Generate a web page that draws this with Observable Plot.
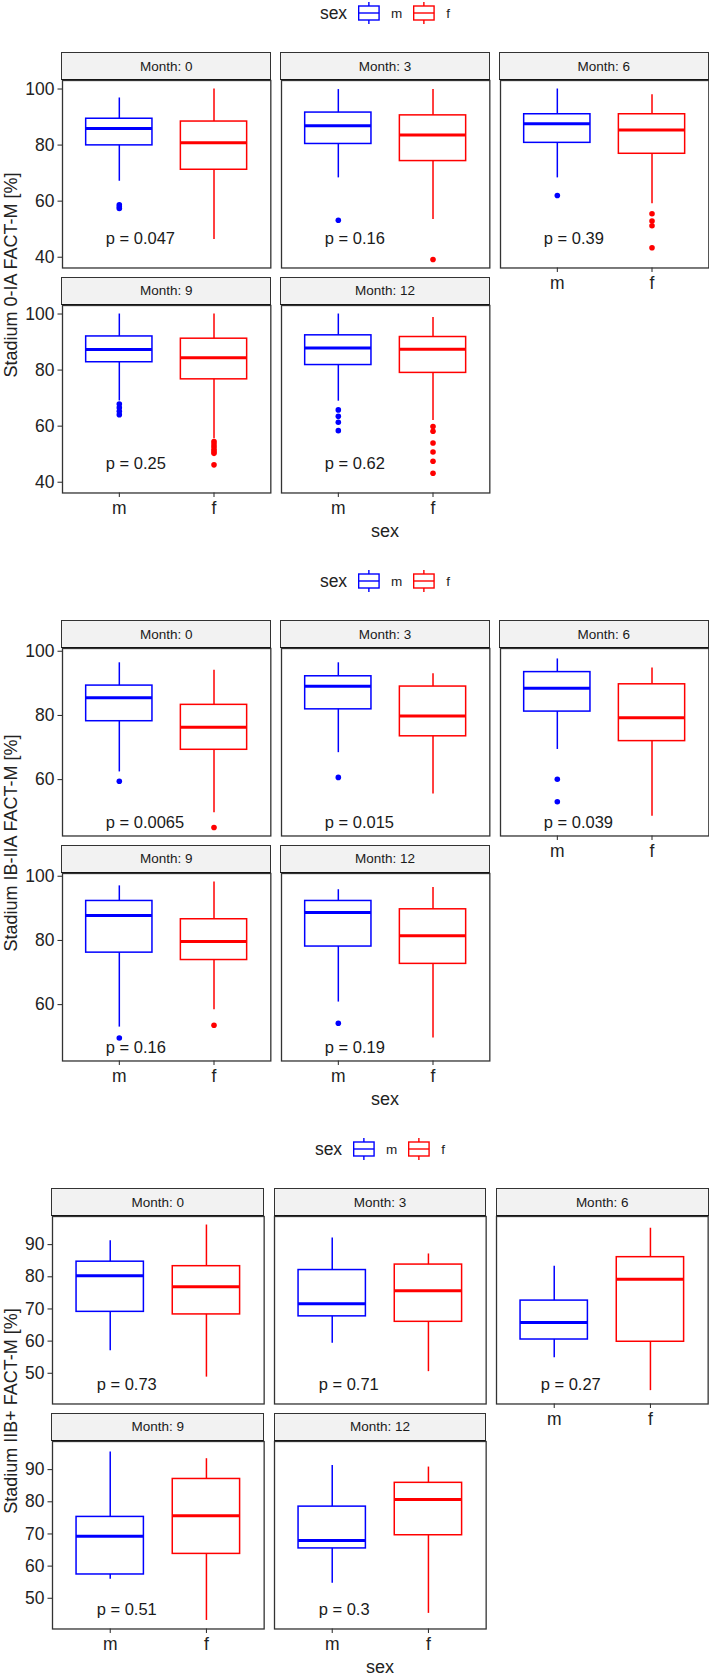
<!DOCTYPE html>
<html>
<head>
<meta charset="utf-8">
<script src="https://cdn.jsdelivr.net/npm/d3@7"></script>
<script src="https://cdn.jsdelivr.net/npm/@observablehq/plot@0.6"></script>
<style>
  body { margin: 0; background: #fff; font-family: "Liberation Sans", Arial, sans-serif; color: #222; }
  #root { position: relative; width: 709px; height: 1675px; overflow: hidden; }
  .abs { position: absolute; }
  .strip { position: absolute; box-sizing: border-box; background: #f2f2f2; border: 1.3px solid #333;
           border-bottom: 1.6px solid #111; font-size: 13.5px; color: #1a1a1a;
           display: flex; align-items: center; justify-content: center; }
  .legend { position: absolute; display: flex; align-items: center; transform: translate(-50%, -50%);
            font-size: 13.5px; white-space: nowrap; }
  .legend .title { font-size: 17.5px; margin-right: 11px; }
  .legend svg { display: block; margin-right: 11px; }
  .legend .lab { margin-right: 11px; }
  .ytitle { position: absolute; font-size: 18px; line-height: 1; white-space: nowrap;
            transform: translate(-50%, -50%) rotate(-90deg); }
  .xtitle { position: absolute; font-size: 18px; transform: translate(-50%, -50%); }
</style>
</head>
<body>
<div id="root"></div>
<script>
// Faceted box plots of FACT-M scores by sex and follow-up month, one block per stage.
const months = [0, 3, 6, 9, 12];
const sexes = ["m", "f"];
const sexColors = ["#0000ff", "#ff0000"];

// Box statistics per month: [lower whisker, Q1, median, Q3, upper whisker]
const stage1Title = "Stadium 0-IA FACT-M [%]";
const stage1Male = [
  [67.1, 79.9, 85.9, 89.4, 96.8],
  [68.3, 80.4, 86.9, 91.6, 99.8],
  [68.3, 80.8, 87.6, 91.0, 100],
  [69.0, 82.8, 87.3, 92.0, 100],
  [68.9, 81.8, 87.9, 92.4, 100]
];
const stage1Female = [
  [46.3, 71.2, 80.8, 88.4, 100],
  [53.5, 74.3, 83.6, 90.6, 99.8],
  [59.1, 76.9, 85.4, 91.0, 98.0],
  [55.5, 76.7, 84.4, 91.2, 100],
  [62.0, 79.0, 87.4, 91.8, 98.8]
];
const stage1MaleOutliers = [[57.4, 58.0, 58.7], [53.2], [62.0], [67.9, 66.6, 65.3, 64.1], [65.8, 63.5, 61.4, 58.4]];
const stage1FemaleOutliers = [[], [39.2], [55.5, 52.9, 51.2, 43.4], [54.5, 53.6, 52.7, 51.8, 51.0, 50.3, 46.2], [59.9, 58.2, 54.0, 50.8, 47.5, 43.2]];
const stage1P = ["0.047", "0.16", "0.39", "0.25", "0.62"];
const stage1Ticks = [40, 60, 80, 100];

const stage2Title = "Stadium IB-IIA FACT-M [%]";
const stage2Male = [
  [62.4, 78.2, 85.5, 89.3, 96.4],
  [68.4, 81.9, 89.1, 92.2, 96.4],
  [69.4, 81.2, 88.5, 93.5, 97.6],
  [53.0, 76.2, 87.8, 92.3, 97.0],
  [60.8, 78.1, 88.7, 92.3, 95.8]
];
const stage2Female = [
  [49.7, 69.3, 76.3, 83.3, 94.1],
  [55.5, 73.5, 79.8, 89.0, 93.0],
  [48.6, 72.0, 79.3, 89.7, 94.8],
  [58.4, 73.9, 79.7, 86.6, 98.2],
  [49.6, 72.7, 81.5, 89.7, 96.5]
];
const stage2MaleOutliers = [[59.5], [60.7], [60.1, 53.1], [49.6], [54.2]];
const stage2FemaleOutliers = [[45.1], [], [], [53.6], []];
const stage2P = ["0.0065", "0.015", "0.039", "0.16", "0.19"];
const stage2Ticks = [60, 80, 100];

const stage3Title = "Stadium IIB+ FACT-M [%]";
const stage3Male = [
  [57.0, 69.1, 80.3, 84.7, 91.2],
  [59.3, 67.7, 71.6, 82.1, 92.1],
  [54.8, 60.5, 65.8, 72.6, 83.3],
  [55.9, 57.4, 69.3, 75.3, 95.5],
  [54.7, 65.5, 68.0, 78.5, 91.3]
];
const stage3Female = [
  [48.8, 68.3, 76.9, 83.3, 96.1],
  [50.5, 66.0, 75.7, 83.8, 87.1],
  [44.6, 59.8, 79.2, 86.1, 95.1],
  [43.1, 63.8, 75.7, 87.1, 93.4],
  [45.3, 69.6, 80.7, 85.9, 90.8]
];
const stage3MaleOutliers = [[], [], [], [], []];
const stage3FemaleOutliers = [[], [], [], [], []];
const stage3P = ["0.73", "0.71", "0.27", "0.51", "0.3"];
const stage3Ticks = [50, 60, 70, 80, 90];

// Height at which the p-value annotation sits, in score units
const pLabelY = 46.5;

const stages = [
  {title: stage1Title, male: stage1Male, female: stage1Female, maleOut: stage1MaleOutliers, femaleOut: stage1FemaleOutliers, p: stage1P, ticks: stage1Ticks, left: 62},
  {title: stage2Title, male: stage2Male, female: stage2Female, maleOut: stage2MaleOutliers, femaleOut: stage2FemaleOutliers, p: stage2P, ticks: stage2Ticks, left: 62},
  {title: stage3Title, male: stage3Male, female: stage3Female, maleOut: stage3MaleOutliers, femaleOut: stage3FemaleOutliers, p: stage3P, ticks: stage3Ticks, left: 52}
];

// Layout of one block (pixels)
const blockHeight = 568;
const rightEdge = 708;
const colGap = 10.5;
const stripH = 28;
const panelH = 187.5;
const rowPanelTop = [80, 304.5];
const legendY = 13;
const xTitleY = 531;
const axisFont = "17.5px";

const root = document.getElementById("root");

function el(cls, styles, html) {
  const d = document.createElement("div");
  if (cls) d.className = cls;
  Object.assign(d.style, styles || {});
  if (html != null) d.innerHTML = html;
  root.appendChild(d);
  return d;
}

function keyGlyph(color) {
  return `<svg width="22" height="22" viewBox="0 0 22 22">
    <line x1="11" x2="11" y1="0" y2="22" stroke="${color}" stroke-width="1.4"/>
    <rect x="0.8" y="4" width="20.4" height="14" fill="white" stroke="${color}" stroke-width="1.4"/>
    <line x1="0.8" x2="21.2" y1="11" y2="11" stroke="${color}" stroke-width="1.4"/>
  </svg>`;
}

stages.forEach((st, si) => {
  const top0 = si * blockHeight;
  const panelW = (rightEdge - st.left - 2 * colGap) / 3;
  const colX = [0, 1, 2].map(c => st.left + c * (panelW + colGap));
  const centerX = (st.left + rightEdge) / 2;

  // y extent shared by all panels of this block, expanded by 5% like ggplot
  const all = [...st.male.flat(), ...st.female.flat(), ...st.maleOut.flat(), ...st.femaleOut.flat()];
  const lo = d3.min(all), hi = d3.max(all), pad = (hi - lo) * 0.05;
  const yDomain = [lo - pad, hi + pad];

  // legend
  el("legend", {left: centerX + "px", top: (top0 + legendY) + "px"},
    `<span class="title">sex</span>${keyGlyph(sexColors[0])}<span class="lab">${sexes[0]}</span>${keyGlyph(sexColors[1])}<span class="lab" style="margin-right:0">${sexes[1]}</span>`);

  // y axis title spanning both rows
  const yMid = top0 + (rowPanelTop[0] - stripH + rowPanelTop[1] + panelH) / 2 + 3;
  el("ytitle", {left: "10.5px", top: yMid + "px"}, st.title);

  // x axis title
  el("xtitle", {left: centerX + "px", top: (top0 + xTitleY) + "px"}, "sex");

  months.forEach((month, k) => {
    const row = k < 3 ? 0 : 1, col = k % 3;
    const showY = col === 0;
    const showX = row === 1 || col === 2;
    const px = colX[col];
    const py = top0 + rowPanelTop[row];

    // facet strip
    el("strip", {left: (px - 0.65) + "px", top: (py - stripH) + "px", width: (panelW + 1.3) + "px", height: stripH + "px"},
      `Month: ${month}`);

    const boxes = sexes.map((s, i) => {
      const v = (i ? st.female : st.male)[k];
      return {sex: s, lo: v[0], q1: v[1], med: v[2], q3: v[3], hi: v[4]};
    });
    const outliers = sexes.flatMap((s, i) => (i ? st.femaleOut : st.maleOut)[k].map(v => ({sex: s, v})));
    const pLabel = [{sex: sexes[0], y: pLabelY, label: `p = ${st.p[k]}`}];

    const ml = showY ? st.left : 0;
    const mb = showX ? 34 : 0;
    const chart = Plot.plot({
      width: ml + panelW,
      height: panelH + mb,
      marginLeft: ml, marginRight: 0, marginTop: 0, marginBottom: mb,
      style: {fontSize: axisFont, fontFamily: "'Liberation Sans', Arial, sans-serif", color: "#222", overflow: "visible", background: "transparent"},
      x: {type: "band", domain: sexes, paddingInner: 0.3, paddingOuter: 0.25, round: false,
          axis: showX ? "bottom" : null, tickSize: 4.5, tickPadding: 4, label: null},
      y: {domain: yDomain, nice: false, axis: showY ? "left" : null, ticks: st.ticks,
          tickSize: 4.5, tickPadding: 3.5, label: null},
      color: {domain: sexes, range: sexColors},
      marks: [
        Plot.ruleX(boxes, {x: "sex", y1: "lo", y2: "hi", stroke: "sex", strokeWidth: 1.5}),
        Plot.barY(boxes, {x: "sex", y1: "q1", y2: "q3", fill: "white", stroke: "sex", strokeWidth: 1.5}),
        Plot.tickY(boxes, {x: "sex", y: "med", stroke: "sex", strokeWidth: 3}),
        Plot.dot(outliers, {x: "sex", y: "v", fill: "sex", r: 2.8}),
        Plot.text(pLabel, {x: "sex", y: "y", text: "label", textAnchor: "start", dx: -13.5, fontSize: 16.5, fill: "#1a1a1a"}),
        Plot.frame({stroke: "#333", strokeWidth: 1.3})
      ]
    });
    const wrap = el("abs", {left: (px - ml) + "px", top: py + "px", width: (ml + panelW) + "px", height: (panelH + mb) + "px"});
    wrap.appendChild(chart);
  });
});
</script>
</body>
</html>
